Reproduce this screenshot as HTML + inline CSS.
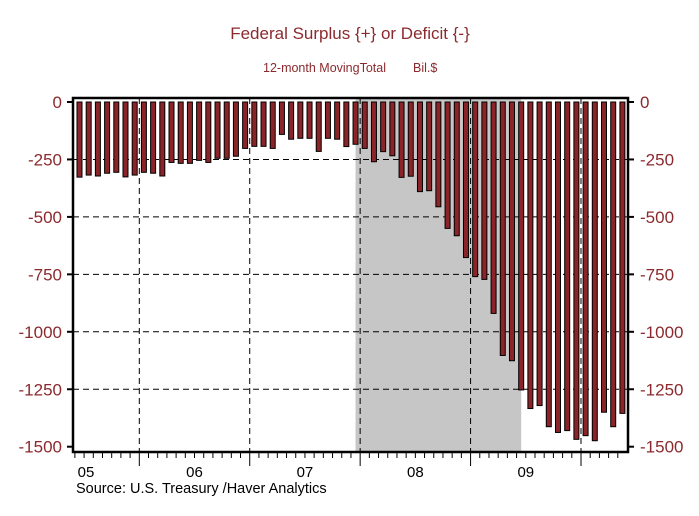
<!DOCTYPE html>
<html><head><meta charset="utf-8"><style>
body{margin:0;background:#fff;}
svg{display:block;font-family:"Liberation Sans",sans-serif;}
</style></head><body>
<svg id="c" width="699" height="516" viewBox="0 0 699 516">
<text x="350" y="39" text-anchor="middle" font-size="17" fill="#8b2a2e">Federal Surplus {+} or Deficit {-}</text>
<text x="263" y="72" font-size="12.5" fill="#8b2a2e">12-month MovingTotal</text>
<text x="413" y="72" font-size="12.5" fill="#8b2a2e">Bil.$</text>
<g id="plot"></g>
<text x="76" y="493" font-size="14.5" fill="#000">Source:  U.S. Treasury /Haver Analytics</text>
</svg>
<script>
const values = [-327,-318,-322,-310,-306,-326,-318,
 -306,-310,-322,-263,-267,-267,-254,-263,-245,-245,-236,-202,
 -193,-193,-202,-141,-162,-158,-158,-215,-158,-162,-194,-184,
 -202,-260,-216,-234,-328,-323,-390,-386,-456,-550,-582,-677,
 -760,-772,-920,-1103,-1126,-1253,-1334,-1321,-1413,-1438,-1430,-1468,
 -1452,-1474,-1350,-1413,-1355];
const startMonth = 5; // June 2005, months since Jan 2005
const yTicks = [0,-250,-500,-750,-1000,-1250,-1500];
const yearLabels = ["05","06","07","08","09"];
const recession = [35,53]; // Dec 2007 - Jun 2009 (month index)

const NS="http://www.w3.org/2000/svg";
const g=document.getElementById('plot');
const L=73,R=628,T=98,B=452;
const y=v=>102-v*0.2298;
const xm=i=>139.3+9.202*(i-12);
function mk(t,a){const e=document.createElementNS(NS,t);for(const k in a)e.setAttribute(k,a[k]);g.appendChild(e);return e;}
let e;
// recession shade
e=mk('rect',{x:xm(recession[0])+4.6,y:T,width:xm(recession[1])-xm(recession[0]),height:B-T,fill:'#c6c6c6'});


// horizontal grid
yTicks.forEach(v=>{
 if(v!==0&&v!==-1500){
  e=mk('line',{x1:L,x2:R,y1:y(v),y2:y(v),stroke:'#000','stroke-width':1,'stroke-dasharray':'6,4'});
  
  
 }
 e=mk('line',{x1:L-6,x2:L,y1:y(v),y2:y(v),stroke:'#000','stroke-width':2});
 
 
 e=mk('line',{x1:R,x2:R+6,y1:y(v),y2:y(v),stroke:'#000','stroke-width':2});
 
 
 e=mk('text',{x:L-11,y:y(v)+6,'text-anchor':'end','font-size':17,fill:'#8b2a2e'});
 e.textContent=v;
 
 
 e=mk('text',{x:R+12,y:y(v)+6,'font-size':17,fill:'#8b2a2e'});
 e.textContent=v;
 
 
});
// vertical year lines and ticks
for(let i=0;i<=64;i++){
 const x=xm(i);
 if(x<L||x>R)continue;
 const major=i%12===0;
 if(major){
  e=mk('line',{x1:x,x2:x,y1:T,y2:B,stroke:'#000','stroke-width':1,'stroke-dasharray':'6,4'});
  
  
 }
 e=mk('line',{x1:x,x2:x,y1:B,y2:B+(major?14:6),stroke:'#000','stroke-width':1});
 
 
}
yearLabels.forEach((lab,k)=>{
 let cx=(Math.max(xm(k*12),L)+Math.min(xm(k*12+12),R))/2;
 if(k===0)cx=86;
 e=mk('text',{x:cx,y:477,'text-anchor':'middle','font-size':15,fill:'#000'});
 e.textContent=lab;
 
 
});
// bars
values.forEach((v,k)=>{
 const cx=xm(startMonth+k)+4.6;
 const y0=y(0),y1=y(v);
 e=mk('rect',{x:cx-2.5,y:Math.min(y0,y1),width:5,height:Math.abs(y1-y0),fill:'#8b2428',stroke:'#000','stroke-width':1});
 
 
});
// frame
e=mk('rect',{x:L,y:T,width:R-L,height:B-T,fill:'none',stroke:'#000','stroke-width':2.5});


</script>
</body></html>
